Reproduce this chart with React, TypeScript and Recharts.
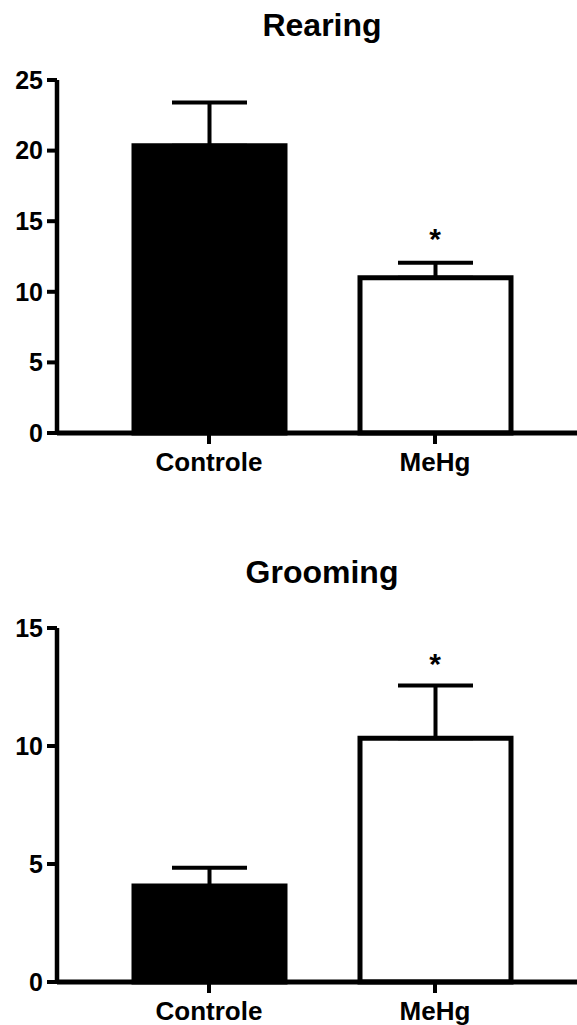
import { BarChart, Bar, XAxis, YAxis, ErrorBar, Cell, ReferenceDot } from "recharts";

const groups = ["Controle", "MeHg"];
const barFills = ["#000000", "#ffffff"];

const rearingMean = [20.35, 11.0];
const rearingSem = [3.05, 1.05];
const rearingTicks = [0, 5, 10, 15, 20, 25];
const rearingStar = [null, 14.2];

const groomingMean = [4.07, 10.33];
const groomingSem = [0.77, 2.23];
const groomingTicks = [0, 5, 10, 15];
const groomingStar = [null, 13.73];

const FONT = '"Liberation Sans", Arial, Helvetica, sans-serif';

function Star(props: any) {
  const { cx, cy } = props;
  return (
    <text x={cx} y={cy} dy="0.55em" textAnchor="middle" fontSize={30} fontWeight="bold" fontFamily={FONT} fill="#000">
      *
    </text>
  );
}

interface PanelProps {
  title: string;
  titleY: number;
  means: number[];
  sems: number[];
  ticks: number[];
  stars: (number | null)[];
  height: number;
  marginTop: number;
  marginBottom: number;
}

function Panel({ title, titleY, means, sems, ticks, stars, height, marginTop, marginBottom }: PanelProps) {
  const data = groups.map((g, i) => ({ group: g, mean: means[i], err: [0, sems[i]] }));
  const top = ticks[ticks.length - 1];
  return (
    <div style={{ position: "relative", width: 577, height }}>
      <svg width={577} height={height} style={{ position: "absolute", left: 0, top: 0 }}>
        <text x={322} y={titleY} textAnchor="middle" fontSize={32} fontWeight="bold" fontFamily={FONT} fill="#000">
          {title}
        </text>
      </svg>
      <div style={{ position: "absolute", left: 0, top: 0 }}>
        <BarChart
          width={577}
          height={height}
          data={data}
          margin={{ top: marginTop, right: 0, bottom: marginBottom, left: 7 }}
          barSize={151}
        >
          <XAxis
            dataKey="group"
            height={40}
            padding={{ left: 39, right: 29 }}
            axisLine={{ stroke: "#000", strokeWidth: 5 }}
            tickLine={{ stroke: "#000", strokeWidth: 4 }}
            tickSize={11}
            tickMargin={9}
            tick={{ fontSize: 26, fontWeight: "bold", fill: "#000", fontFamily: FONT }}
          />
          <YAxis
            width={50}
            domain={[0, top]}
            ticks={ticks}
            interval={0}
            axisLine={{ stroke: "#000", strokeWidth: 4.5 }}
            tickLine={{ stroke: "#000", strokeWidth: 4 }}
            tickSize={10}
            tickMargin={4}
            tick={{ fontSize: 25, fontWeight: "bold", fill: "#000", fontFamily: FONT }}
          />
          <Bar dataKey="mean" stroke="#000" strokeWidth={5} isAnimationActive={false}>
            {data.map((d, i) => (
              <Cell key={d.group} fill={barFills[i]} />
            ))}
            <ErrorBar dataKey="err" direction="y" width={37.5} stroke="#000" strokeWidth={4} isAnimationActive={false} />
          </Bar>
          {stars.map((s, i) =>
            s == null ? null : (
              <ReferenceDot key={groups[i]} x={groups[i]} y={s} r={0} shape={Star} ifOverflow="visible" />
            )
          )}
        </BarChart>
      </div>
    </div>
  );
}

export default function App() {
  return (
    <div style={{ position: "absolute", left: 0, top: 0, width: 577, height: 1025, background: "#fff" }}>
      <Panel
        title="Rearing"
        titleY={36}
        means={rearingMean}
        sems={rearingSem}
        ticks={rearingTicks}
        stars={rearingStar}
        height={500}
        marginTop={80}
        marginBottom={27}
      />
      <Panel
        title="Grooming"
        titleY={83}
        means={groomingMean}
        sems={groomingSem}
        ticks={groomingTicks}
        stars={groomingStar}
        height={525}
        marginTop={128}
        marginBottom={3}
      />
    </div>
  );
}
